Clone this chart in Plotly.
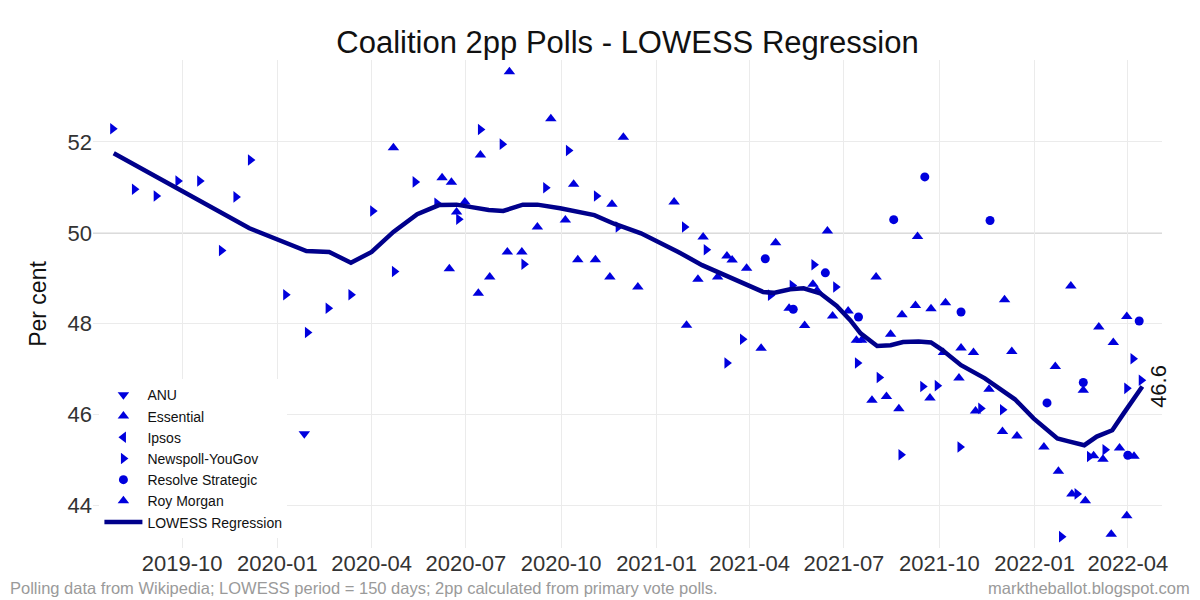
import plotly.graph_objects as go

# ---------------- data ----------------
anu_dates = ["2020-01-27"]
anu_vals = [45.58]

ipsos_dates = [None]
ipsos_vals = [None]

newspoll_dates = [
    "2019-07-26", "2019-08-16", "2019-09-06", "2019-09-27", "2019-10-18", "2019-11-08",
    "2019-11-22", "2019-12-06", "2020-01-09", "2020-01-30", "2020-02-19", "2020-03-12",
    "2020-04-02", "2020-04-23", "2020-05-13", "2020-06-03", "2020-06-24", "2020-07-15",
    "2020-08-05", "2020-08-26", "2020-09-16", "2020-10-08", "2020-11-04", "2020-11-25",
    "2021-01-28", "2021-02-18", "2021-03-10", "2021-03-25", "2021-04-21", "2021-05-12",
    "2021-06-02", "2021-06-23", "2021-07-14", "2021-08-04", "2021-08-25", "2021-09-15",
    "2021-09-29", "2021-10-21", "2021-11-10", "2021-12-01", "2022-01-27", "2022-02-11",
    "2022-02-23", "2022-03-10", "2022-03-31", "2022-04-06", "2022-04-14",
]
newspoll_vals = [
    52.29, 50.96, 50.81, 51.14, 51.14, 49.61,
    50.79, 51.60, 48.64, 47.81, 48.34, 48.64,
    50.48, 49.15, 51.12, 50.65, 50.30, 52.27,
    51.95, 49.31, 50.99, 51.81, 50.81, 50.13,
    50.13, 49.63, 47.14, 47.66, 48.63, 48.84,
    49.30, 48.81, 47.14, 46.82, 45.12, 46.62,
    46.64, 45.29, 46.14, 46.11, 43.32, 44.26,
    45.08, 45.23, 46.58, 47.23, 46.76,
]

essential_dates = [
    "2020-04-22", "2020-06-17", "2020-07-15", "2020-08-12", "2020-09-08", "2020-10-05",
    "2020-11-03", "2020-11-30", "2021-01-18", "2021-02-15", "2021-03-15", "2021-04-12",
    "2021-05-09", "2021-06-05", "2021-07-05", "2021-07-28", "2021-08-23", "2021-09-22",
    "2021-10-20", "2021-11-18", "2021-12-15", "2022-01-24", "2022-02-19", "2022-03-16",
    "2022-03-31",
]
essential_vals = [
    51.87, 51.11, 51.71, 53.54, 50.13, 50.28,
    49.41, 52.10, 50.68, 49.91, 49.40, 47.46,
    48.34, 48.73, 48.28, 46.32, 46.13, 46.37,
    46.81, 46.56, 45.53, 44.76, 44.11, 43.37,
    43.78,
]

roy_morgan_dates = [
    "2020-06-08", "2020-06-15", "2020-06-22", "2020-06-30", "2020-07-13", "2020-07-24",
    "2020-08-10", "2020-08-24", "2020-09-21", "2020-10-13", "2020-10-17", "2020-11-17",
    "2020-11-19", "2020-12-14", "2021-01-30", "2021-02-10", "2021-03-01", "2021-03-10",
    "2021-03-29", "2021-04-26", "2021-05-24", "2021-06-01", "2021-06-15", "2021-06-20",
    "2021-07-13", "2021-07-18", "2021-08-01", "2021-08-11", "2021-08-15", "2021-08-26",
    "2021-09-08", "2021-09-10", "2021-09-23", "2021-10-05", "2021-10-07", "2021-10-22",
    "2021-11-03", "2021-11-05", "2021-12-01", "2021-12-03", "2021-12-10", "2022-01-10",
    "2022-01-21", "2022-02-05", "2022-02-06", "2022-02-17", "2022-02-27", "2022-03-04",
    "2022-03-08", "2022-03-18", "2022-03-24", "2022-03-31", "2022-04-07",
]
roy_morgan_vals = [
    51.21, 49.21, 50.46, 50.68, 48.67, 49.03,
    49.58, 49.58, 52.51, 51.07, 49.41, 49.03,
    50.63, 48.81, 47.97, 48.98, 49.03, 49.49,
    49.22, 49.78, 47.96, 48.87, 50.04, 48.17,
    47.64, 47.64, 49.03, 46.40, 47.77, 48.20,
    48.40, 49.92, 48.33, 47.37, 48.46, 47.47,
    47.37, 46.08, 45.63, 48.53, 47.39, 45.29,
    47.06, 48.83, 44.26, 46.54, 45.10, 47.93,
    45.02, 47.59, 45.27, 48.16, 45.09,
]

resolve_dates = [
    "2021-04-16", "2021-05-13", "2021-06-13", "2021-07-15", "2021-08-18", "2021-09-17",
    "2021-10-22", "2021-11-19", "2022-01-13", "2022-02-17", "2022-04-01", "2022-04-12",
]
resolve_vals = [
    49.43, 48.32, 49.12, 48.15, 50.29, 51.23,
    48.26, 50.27, 46.26, 46.71, 45.11, 48.06,
]

lowess_dates = [
    "2019-07-27", "2019-12-05", "2020-01-29", "2020-02-20", "2020-03-12", "2020-04-01",
    "2020-04-22", "2020-05-15", "2020-06-05", "2020-06-22", "2020-07-05", "2020-07-23",
    "2020-08-06", "2020-08-25", "2020-09-08", "2020-09-30", "2020-11-02", "2020-11-21",
    "2020-12-17", "2021-01-22", "2021-02-14", "2021-03-13", "2021-03-29", "2021-04-14",
    "2021-04-24", "2021-05-10", "2021-05-23", "2021-06-08", "2021-06-24", "2021-07-07",
    "2021-07-17", "2021-08-02", "2021-08-15", "2021-08-27", "2021-09-11", "2021-09-23",
    "2021-10-03", "2021-10-22", "2021-11-14", "2021-11-30", "2021-12-13", "2021-12-31",
    "2022-01-23", "2022-02-02", "2022-02-18", "2022-03-02", "2022-03-17", "2022-03-28",
    "2022-04-15",
]
lowess_vals = [
    51.75, 50.10, 49.60, 49.58, 49.34, 49.58,
    50.02, 50.41, 50.61, 50.62, 50.57, 50.50,
    50.48, 50.62, 50.62, 50.54, 50.39, 50.20,
    49.99, 49.58, 49.29, 49.03, 48.85, 48.70,
    48.68, 48.76, 48.78, 48.67, 48.39, 48.08,
    47.79, 47.51, 47.53, 47.60, 47.61, 47.59,
    47.44, 47.09, 46.80, 46.54, 46.34, 45.92,
    45.48, 45.42, 45.33, 45.52, 45.66, 46.03,
    46.62,
]
final_label = "46.6"

y_ticks = [44, 46, 48, 50, 52]

# ---------------- styling ----------------
PT = "#0000dd"
LINE = "#00008b"
FONT = "Liberation Sans, Arial, sans-serif"

fig = go.Figure()


def add_pts(name, xs, ys, symbol, size=10):
    fig.add_trace(go.Scatter(
        x=xs, y=ys, mode="markers", name=name,
        marker=dict(symbol=symbol, color=PT, size=size, line=dict(width=0)),
    ))


add_pts("ANU", anu_dates, anu_vals, "triangle-down")
add_pts("Essential", essential_dates, essential_vals, "triangle-up")
add_pts("Ipsos", ipsos_dates, ipsos_vals, "triangle-left")
add_pts("Newspoll-YouGov", newspoll_dates, newspoll_vals, "triangle-right")
add_pts("Resolve Strategic", resolve_dates, resolve_vals, "circle", 9)
add_pts("Roy Morgan", roy_morgan_dates, roy_morgan_vals, "triangle-up")

fig.add_trace(go.Scatter(
    x=lowess_dates, y=lowess_vals, mode="lines", name="LOWESS Regression",
    line=dict(color=LINE, width=4.5),
))

fig.add_shape(type="line", xref="paper", yref="y", x0=0, x1=1, y0=50, y1=50,
              line=dict(color="#b8b8b8", width=1.5), layer="below")

fig.add_annotation(x=lowess_dates[-1], y=lowess_vals[-1], text=final_label,
                   textangle=-90, showarrow=False, xshift=16,
                   font=dict(size=22, color="#111111", family=FONT))

fig.add_annotation(xref="paper", yref="paper", x=-0.0795, y=-0.082,
                   xanchor="left", yanchor="middle", showarrow=False,
                   text="Polling data from Wikipedia; LOWESS period = 150 days; 2pp calculated from primary vote polls.",
                   font=dict(size=16.5, color="#9a9a9a", family=FONT))
fig.add_annotation(xref="paper", yref="paper", x=1.028, y=-0.082,
                   xanchor="right", yanchor="middle", showarrow=False,
                   text="marktheballot.blogspot.com",
                   font=dict(size=16.5, color="#9a9a9a", family=FONT))

fig.update_layout(
    width=1200, height=600,
    margin=dict(l=93, r=38, t=60, b=52),
    paper_bgcolor="white", plot_bgcolor="white",
    font=dict(family=FONT, color="#333333"),
    title=dict(text="Coalition 2pp Polls - LOWESS Regression",
               x=0.5, xref="paper", y=1 - 42 / 600, yref="container",
               xanchor="center", yanchor="middle",
               font=dict(size=31, color="#111111", family=FONT)),
    legend=dict(x=0.006, y=0.02, xanchor="left", yanchor="bottom",
                bgcolor="white", font=dict(size=14, color="#111111", family=FONT),
                tracegroupgap=0, itemwidth=38),
    showlegend=True,
)

fig.update_xaxes(
    range=["2019-07-07", "2022-05-04"],
    dtick="M3", tick0="2019-10-01", tickformat="%Y-%m",
    showgrid=True, gridcolor="#ebebeb", gridwidth=1,
    zeroline=False, showline=False, ticks="",
    tickfont=dict(size=22, color="#333333", family=FONT),
)
fig.update_yaxes(
    range=[43.07, 53.8], tickvals=y_ticks,
    showgrid=True, gridcolor="#ebebeb", gridwidth=1,
    zeroline=False, showline=False, ticks="",
    tickfont=dict(size=22, color="#333333", family=FONT),
    title=dict(text="Per cent", font=dict(size=23, color="#111111", family=FONT), standoff=14),
)

fig.write_html("out.html")
